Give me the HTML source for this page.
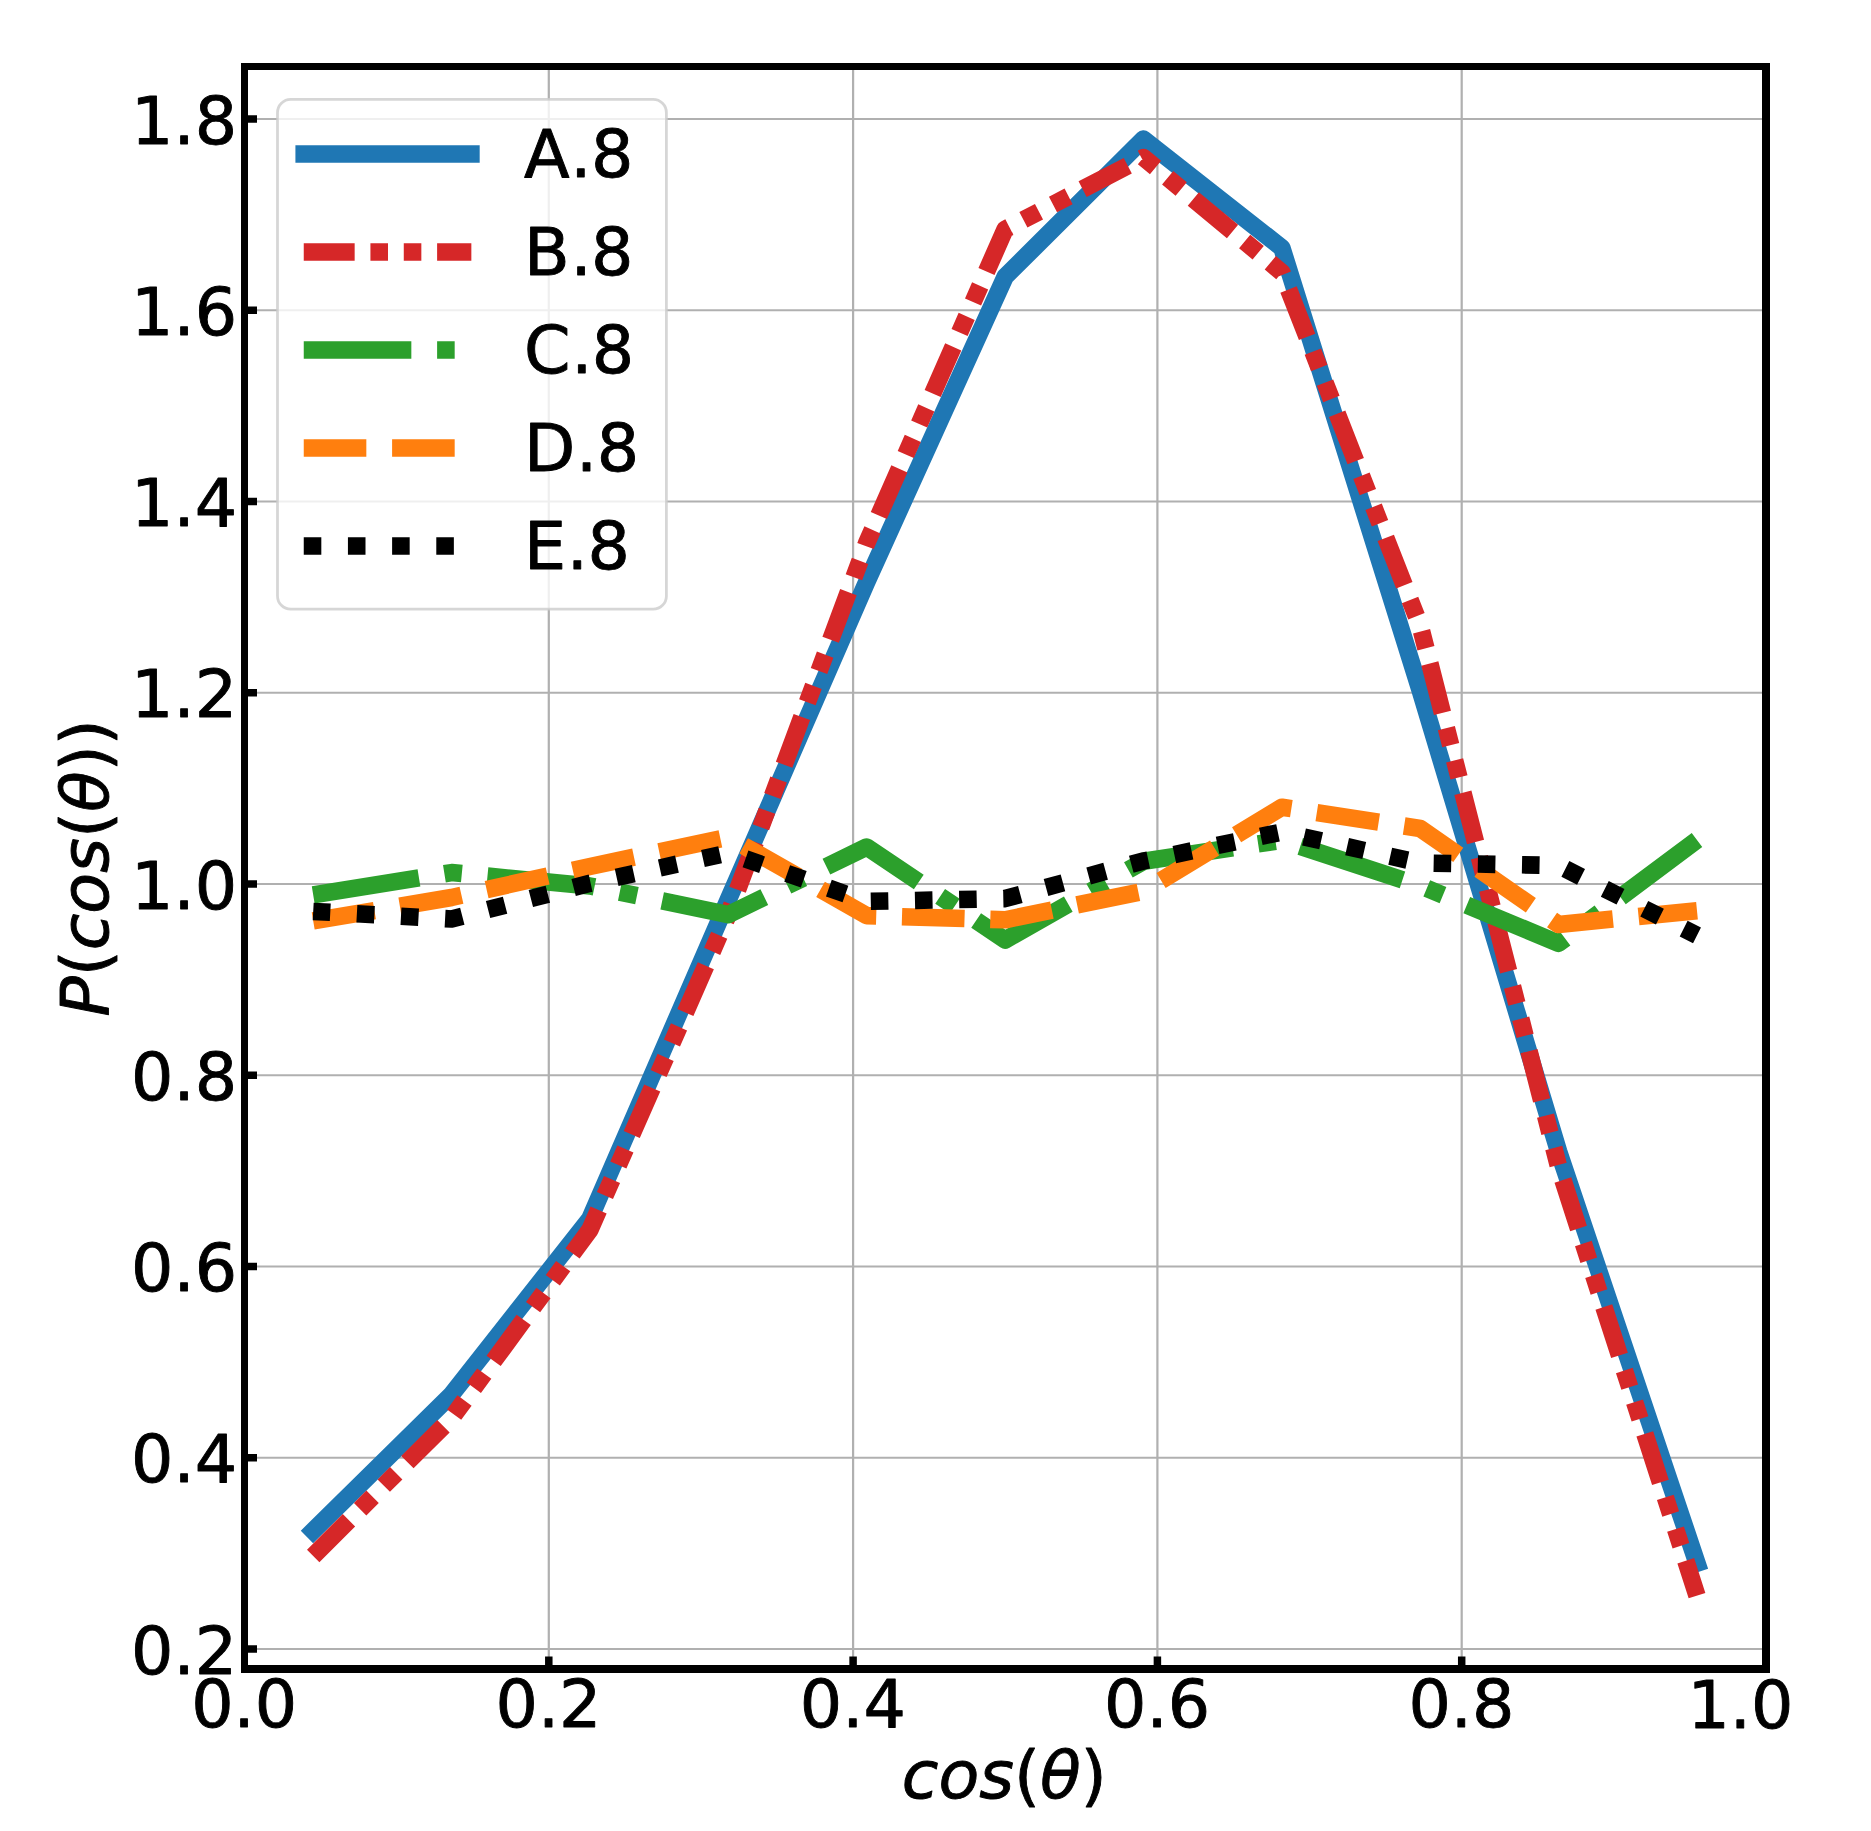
<!DOCTYPE html>
<html lang="en"><head><meta charset="utf-8"><title>P(cos(θ))</title>
<style>html,body{margin:0;padding:0;background:#fff}svg{display:block}text{font-family:"DejaVu Sans","Liberation Sans",sans-serif;fill:#000;stroke:#000;stroke-width:0.9px;stroke-linejoin:round;font-kerning:none}.i{font-style:italic}</style></head><body>
<svg width="1871" height="1831" viewBox="0 0 1871 1831">
<rect width="1871" height="1831" fill="#fff"/>
<g stroke="#b0b0b0" stroke-width="2.22" fill="none">
<line x1="548.80" y1="66.50" x2="548.80" y2="1669.00"/>
<line x1="853.10" y1="66.50" x2="853.10" y2="1669.00"/>
<line x1="1157.40" y1="66.50" x2="1157.40" y2="1669.00"/>
<line x1="1461.70" y1="66.50" x2="1461.70" y2="1669.00"/>
<line x1="244.50" y1="1649.00" x2="1766.00" y2="1649.00"/>
<line x1="244.50" y1="1457.75" x2="1766.00" y2="1457.75"/>
<line x1="244.50" y1="1266.50" x2="1766.00" y2="1266.50"/>
<line x1="244.50" y1="1075.25" x2="1766.00" y2="1075.25"/>
<line x1="244.50" y1="884.00" x2="1766.00" y2="884.00"/>
<line x1="244.50" y1="692.75" x2="1766.00" y2="692.75"/>
<line x1="244.50" y1="501.50" x2="1766.00" y2="501.50"/>
<line x1="244.50" y1="310.25" x2="1766.00" y2="310.25"/>
<line x1="244.50" y1="119.00" x2="1766.00" y2="119.00"/>
</g>
<clipPath id="c"><rect x="244.50" y="66.50" width="1521.50" height="1602.50"/></clipPath>
<g clip-path="url(#c)" fill="none" stroke-width="17.57" stroke-linejoin="round" stroke-dashoffset="0.45">
<polyline points="313.20,1530.80 451.58,1394.40 589.96,1218.60 728.34,899.60 866.72,581.90 1005.10,276.80 1143.48,139.10 1281.86,247.80 1420.24,690.70 1558.62,1151.60 1697.00,1563.10" stroke="#1f77b4" stroke-linecap="square"/>
<polyline points="313.20,1555.90 451.58,1418.10 589.96,1229.70 728.34,914.50 866.72,542.90 1005.10,229.30 1143.48,157.60 1281.86,272.40 1420.24,626.00 1558.62,1166.80 1697.00,1595.60" stroke="#d62728" stroke-linecap="butt" stroke-dasharray="50.91 15.77 17.57 15.77 17.57 15.77"/>
<polyline points="313.20,894.95 451.58,872.60 589.96,886.00 728.34,914.60 866.72,847.00 1005.10,940.00 1143.48,861.30 1281.86,840.30 1420.24,885.70 1558.62,943.30 1697.00,840.00" stroke="#2ca02c" stroke-linecap="butt" stroke-dasharray="107.59 25.77 17.57 25.77"/>
<polyline points="313.20,920.90 451.58,897.50 589.96,866.50 728.34,837.10 866.72,915.60 1005.10,919.80 1143.48,891.30 1281.86,807.20 1420.24,828.50 1558.62,924.50 1697.00,910.70" stroke="#ff7f0e" stroke-linecap="butt" stroke-dasharray="62.58 25.77"/>
<polyline points="313.20,911.40 451.58,919.00 589.96,883.30 728.34,852.90 866.72,901.40 1005.10,898.60 1143.48,861.00 1281.86,832.00 1420.24,863.00 1558.62,865.50 1697.00,935.40" stroke="#000000" stroke-linecap="butt" stroke-dasharray="17.57 26.61"/>
</g>
<g stroke="#000" stroke-width="7.50">
<line x1="548.80" y1="1669.00" x2="548.80" y2="1656.50"/>
<line x1="853.10" y1="1669.00" x2="853.10" y2="1656.50"/>
<line x1="1157.40" y1="1669.00" x2="1157.40" y2="1656.50"/>
<line x1="1461.70" y1="1669.00" x2="1461.70" y2="1656.50"/>
<line x1="244.50" y1="1649.00" x2="257.00" y2="1649.00"/>
<line x1="244.50" y1="1457.75" x2="257.00" y2="1457.75"/>
<line x1="244.50" y1="1266.50" x2="257.00" y2="1266.50"/>
<line x1="244.50" y1="1075.25" x2="257.00" y2="1075.25"/>
<line x1="244.50" y1="884.00" x2="257.00" y2="884.00"/>
<line x1="244.50" y1="692.75" x2="257.00" y2="692.75"/>
<line x1="244.50" y1="501.50" x2="257.00" y2="501.50"/>
<line x1="244.50" y1="310.25" x2="257.00" y2="310.25"/>
<line x1="244.50" y1="119.00" x2="257.00" y2="119.00"/>
</g>
<path d="M241 63H1770V1673H241Z M248 70V1665H1762V70Z" fill="#000" fill-rule="evenodd"/>
<g font-size="66.67px" text-anchor="middle">
<text x="244.20" y="1726.70">0.0</text>
<text x="548.50" y="1726.70">0.2</text>
<text x="852.80" y="1726.70">0.4</text>
<text x="1157.10" y="1726.70">0.6</text>
<text x="1461.40" y="1726.70">0.8</text>
<text x="1740.40" y="1728.30">1.0</text>
</g>
<g font-size="66.67px" text-anchor="end">
<text x="237.10" y="1673.70">0.2</text>
<text x="237.10" y="1482.45">0.4</text>
<text x="237.10" y="1291.20">0.6</text>
<text x="237.10" y="1099.95">0.8</text>
<text x="237.10" y="908.70">1.0</text>
<text x="237.10" y="717.45">1.2</text>
<text x="237.10" y="526.20">1.4</text>
<text x="237.10" y="334.95">1.6</text>
<text x="237.10" y="143.70">1.8</text>
</g>
<text x="1004.25" y="1798.00" font-size="66.67px" text-anchor="middle"><tspan class="i">cos</tspan>(<tspan class="i">θ</tspan>)</text>
<text transform="translate(107.80,867.90) rotate(-90)" font-size="66.67px" text-anchor="middle"><tspan class="i">P</tspan>(<tspan class="i">cos</tspan>(<tspan class="i">θ</tspan>))</text>
<rect x="277.50" y="99.40" width="388.90" height="509.80" rx="13.3" ry="13.3" fill="#fff" fill-opacity="0.8" stroke="#ccc" stroke-opacity="0.8" stroke-width="2.78"/>
<g fill="none" stroke-width="17.57" stroke-dashoffset="0.45">
<line x1="304.20" y1="154.00" x2="470.90" y2="154.00" stroke="#1f77b4" stroke-linecap="square"/>
<line x1="303.75" y1="252.00" x2="471.35" y2="252.00" stroke="#d62728" stroke-dasharray="50.91 15.77 17.57 15.77 17.57 15.77" stroke-dashoffset="0"/>
<line x1="303.75" y1="350.00" x2="471.35" y2="350.00" stroke="#2ca02c" stroke-dasharray="107.59 25.77 17.57 25.77" stroke-dashoffset="0"/>
<line x1="303.75" y1="448.00" x2="471.35" y2="448.00" stroke="#ff7f0e" stroke-dasharray="62.58 25.77" stroke-dashoffset="0"/>
<line x1="303.75" y1="546.00" x2="471.35" y2="546.00" stroke="#000000" stroke-dasharray="17.57 26.61" stroke-dashoffset="0"/>
</g>
<g font-size="66.67px">
<text x="524.10" y="176.60" dx="0 0.6 -0.6">A.8</text>
<text x="524.10" y="274.60" dx="0 0.6 -0.6">B.8</text>
<text x="524.10" y="372.60" dx="0 0.6 -0.6">C.8</text>
<text x="524.10" y="470.60" dx="0 0.6 -0.6">D.8</text>
<text x="524.10" y="568.60" dx="0 0.6 -0.6">E.8</text>
</g>
</svg></body></html>
